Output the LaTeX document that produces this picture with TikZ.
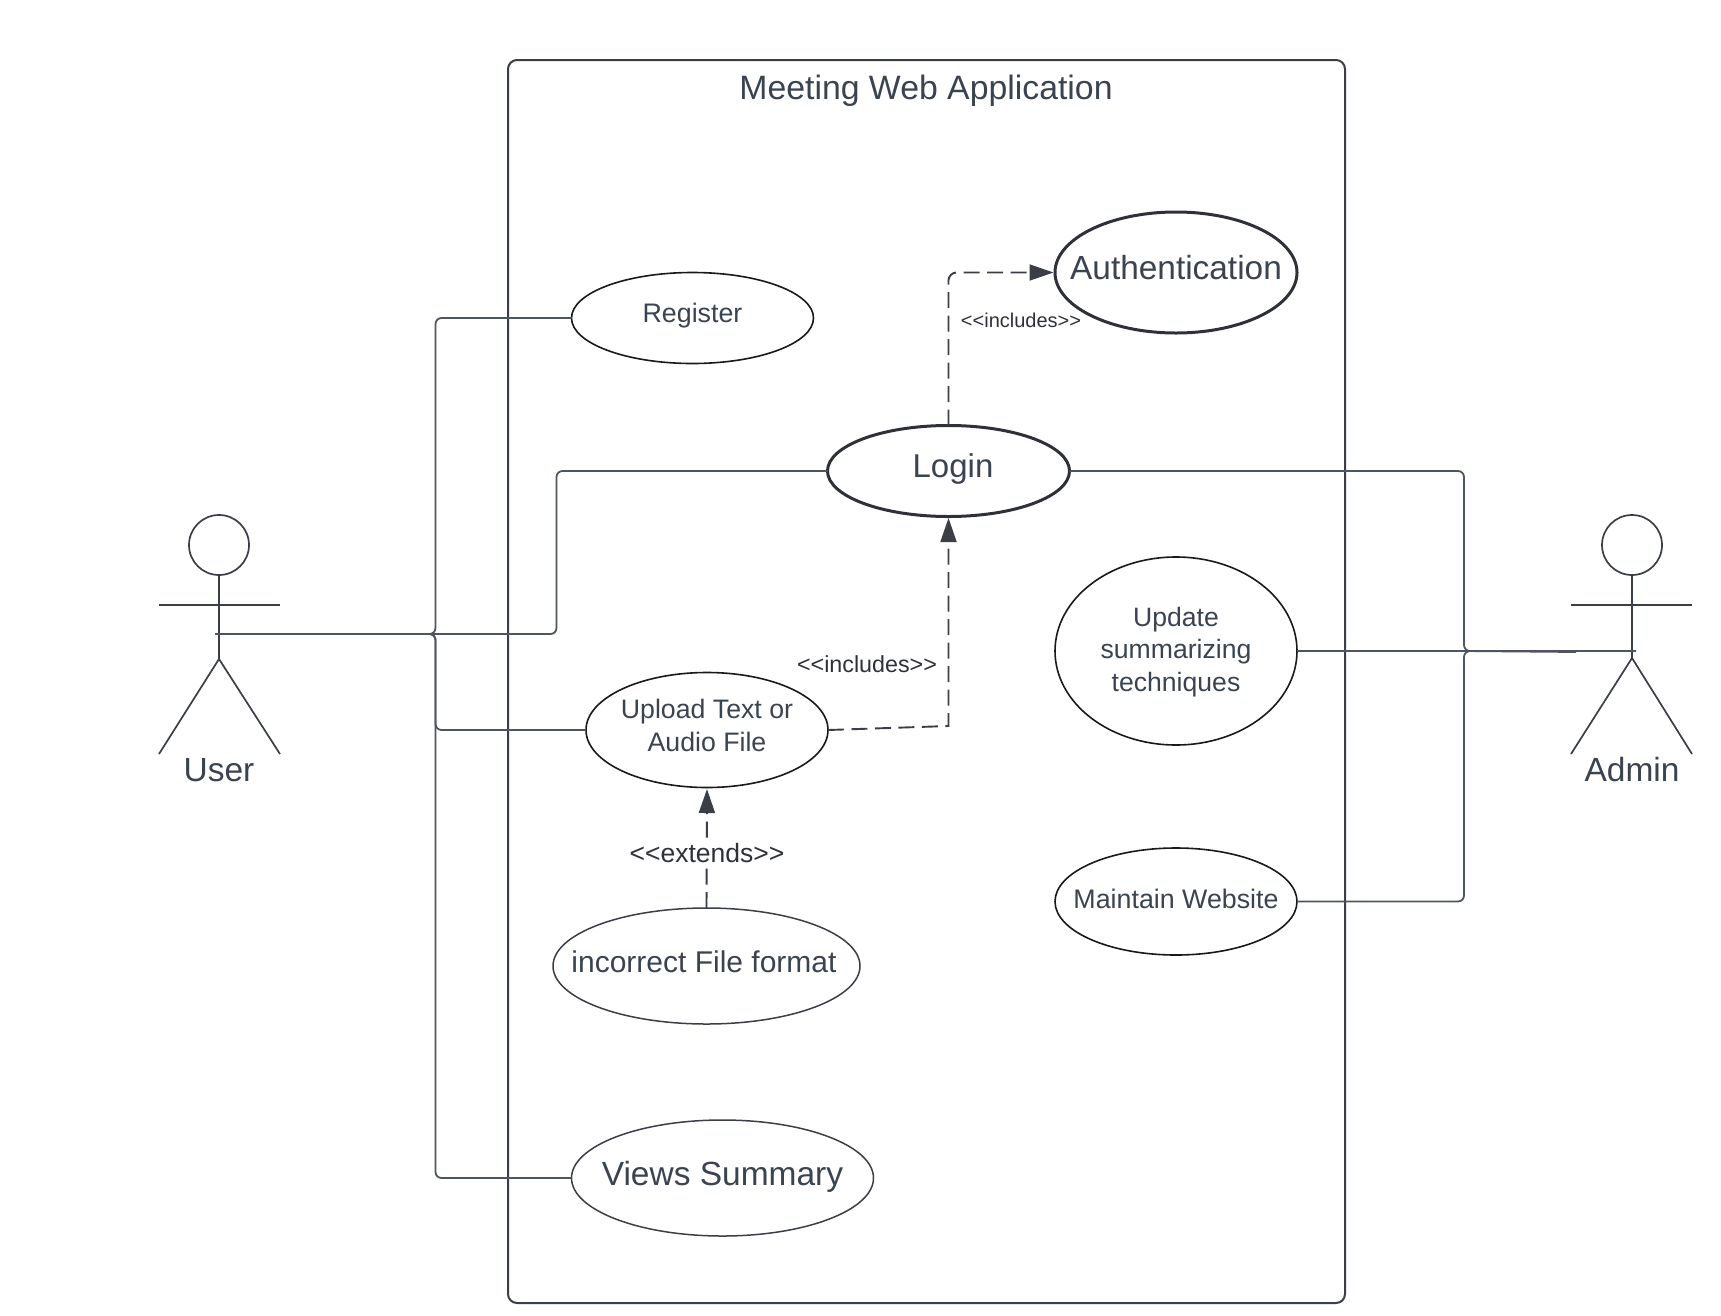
\documentclass[tikz,border=0pt]{standalone}
\usepackage{fontspec}
\setmainfont{Liberation Sans}
\usetikzlibrary{shapes.geometric,arrows.meta}
\definecolor{inkc}{HTML}{3A4350}
\definecolor{linec}{HTML}{4C5561}
\definecolor{framec}{HTML}{3A3F47}
\definecolor{thickc}{HTML}{2E3138}
\newcommand{\fsz}[1]{\fontsize{#1}{32.5}\selectfont}
\newcommand{\uct}[3]{\makebox[0pt]{\kern#1\kern#1\raisebox{#2}[0pt][0pt]{#3}}}
\newcommand{\twol}[2]{\begin{tabular}{@{}c@{}}#1\\#2\end{tabular}}
\newcommand{\thrl}[3]{\begin{tabular}{@{}c@{}}#1\\#2\\#3\end{tabular}}
\newcommand{\lsh}{<{}<}
\newcommand{\rsh}{>{}>}
\tikzset{
  x=1pt,y=-1pt,
  uc/.style={ellipse,draw=black!90,line width=1.6pt,inner sep=0pt,outer sep=0pt,text=inkc,align=center},
  ucthick/.style={uc,draw=thickc,line width=3pt},
  ucsoft/.style={uc,draw=framec,line width=1.5pt},
  link/.style={draw=linec,line width=1.8pt,rounded corners=6pt},
  dep/.style={draw=framec,line width=1.9pt,dash pattern=on 16pt off 7.5pt,rounded corners=8pt,shorten >=1.5pt,
    -{Triangle[length=24pt,width=16pt,fill=framec]}},
  stick/.style={draw=framec,line width=1.7pt},
  lbl/.style={text=inkc,inner sep=0pt},
  stereotype/.style={text=thickc,inner sep=0pt}
}
\begin{document}
\begin{tikzpicture}
\useasboundingbox (0,0) rectangle (1721,1315);
% system frame
\node[draw=framec,line width=2pt,rounded corners=9pt,minimum width=837pt,minimum height=1243pt,inner sep=0pt,outer sep=0pt] (frame) at (926.5,681.5) {};
\node[lbl,font=\fsz{33.8}] (title) at (926,91) {Meeting Web Application};

% use cases
\node[uc,minimum width=242pt,minimum height=91pt,font=\fsz{26.8}] (register) at (692.5,318) {\uct{0pt}{-4.6pt}{Register}};
\node[ucthick,minimum width=242pt,minimum height=91pt,font=\fsz{33}] (login) at (948.5,471) {\uct{4.5pt}{-6.5pt}{Login}};
\node[ucthick,minimum width=242pt,minimum height=121pt,font=\fsz{33.4}] (auth) at (1176,272.5) {\uct{0pt}{-6.5pt}{Authentication}};
\node[uc,minimum width=242pt,minimum height=115pt,font=\fsz{26.7}] (upload) at (707,730) {\uct{0pt}{-4.5pt}{\twol{Upload Text or}{Audio File}}};
\node[ucsoft,minimum width=307pt,minimum height=116pt,font=\fsz{30}] (format) at (706.5,966) {\uct{-2.5pt}{-6pt}{incorrect File format}};
\node[ucsoft,minimum width=302pt,minimum height=116pt,font=\fsz{33.5}] (views) at (722.5,1178) {\uct{0pt}{-7pt}{Views Summary}};
\node[uc,minimum width=242pt,minimum height=188pt,font=\fsz{26.6}] (update) at (1176,651) {\uct{0pt}{-7.5pt}{\thrl{Update}{summarizing}{techniques}}};
\node[uc,minimum width=242pt,minimum height=107pt,font=\fsz{26.8}] (maintain) at (1176,901.5) {\uct{0pt}{-6.5pt}{Maintain Website}};

% user actor
\node[circle,stick,minimum size=60pt,inner sep=0pt,outer sep=0pt] (uhead) at (219,545) {};
\coordinate (uhip) at (219,659);
\coordinate (uarml) at (159,605);
\coordinate (uarmr) at (280,605);
\coordinate (ufootl) at (159,754);
\coordinate (ufootr) at (280,754);
\draw[stick] (uhead.south) -- (uhip);
\draw[stick] (uarml) -- (uarmr);
\draw[stick] (ufootl) -- (uhip) -- (ufootr);
\node[lbl,font=\fsz{33.5}] (userlabel) at (219,770) {User};

% admin actor
\node[circle,stick,minimum size=60pt,inner sep=0pt,outer sep=0pt] (ahead) at (1632,545) {};
\coordinate (ahip) at (1632,658);
\coordinate (aarml) at (1571,605);
\coordinate (aarmr) at (1692,605);
\coordinate (afootl) at (1571,754);
\coordinate (afootr) at (1692,754);
\draw[stick] (ahead.south) -- (ahip);
\draw[stick] (aarml) -- (aarmr);
\draw[stick] (afootl) -- (ahip) -- (afootr);
\node[lbl,font=\fsz{33.5}] (adminlabel) at (1632,770) {Admin};

% user connectors
\coordinate (uhub) at (215,634);
\coordinate (ubus) at (435.5,634);
\coordinate (ubustwo) at (556.5,634);
\draw[link] (uhub) -- (ubus) |- (register.west);
\draw[link] (uhub) -- (ubus) |- (upload.west);
\draw[link] (uhub) -- (ubus) |- (views.west);
\draw[link] (uhub) -- (ubustwo) |- (login.west);

% admin connectors
\coordinate (ahub) at (1636,651);
\coordinate (ahubb) at (1576,652);
\coordinate (abus) at (1464,651);
\draw[link] (login.east) -| (abus) -- (ahub);
\draw[link] (update.east) -- (ahub);
\draw[link] (maintain.east) -| (abus) -- (ahubb);

% dependencies
\coordinate (upcorner) at (948.5,726);
\draw[dep,rounded corners=0pt] (upload.east) -- (upcorner) -- (login.south);
\draw[dep] (login.north) |- (auth.west);
\draw[dep,rounded corners=0pt] (format.north) -- (upload.south);

% stereotype labels
\node[stereotype,font=\fsz{20}] (inclauth) at (1021,320) {\lsh includes\rsh};
\node[stereotype,font=\fsz{23.3}] (inclup) at (867,664) {\lsh includes\rsh};
\node[stereotype,font=\fsz{26.5},fill=white,inner ysep=3pt] (ext) at (707,853) {\lsh extends\rsh};
\end{tikzpicture}
\end{document}
